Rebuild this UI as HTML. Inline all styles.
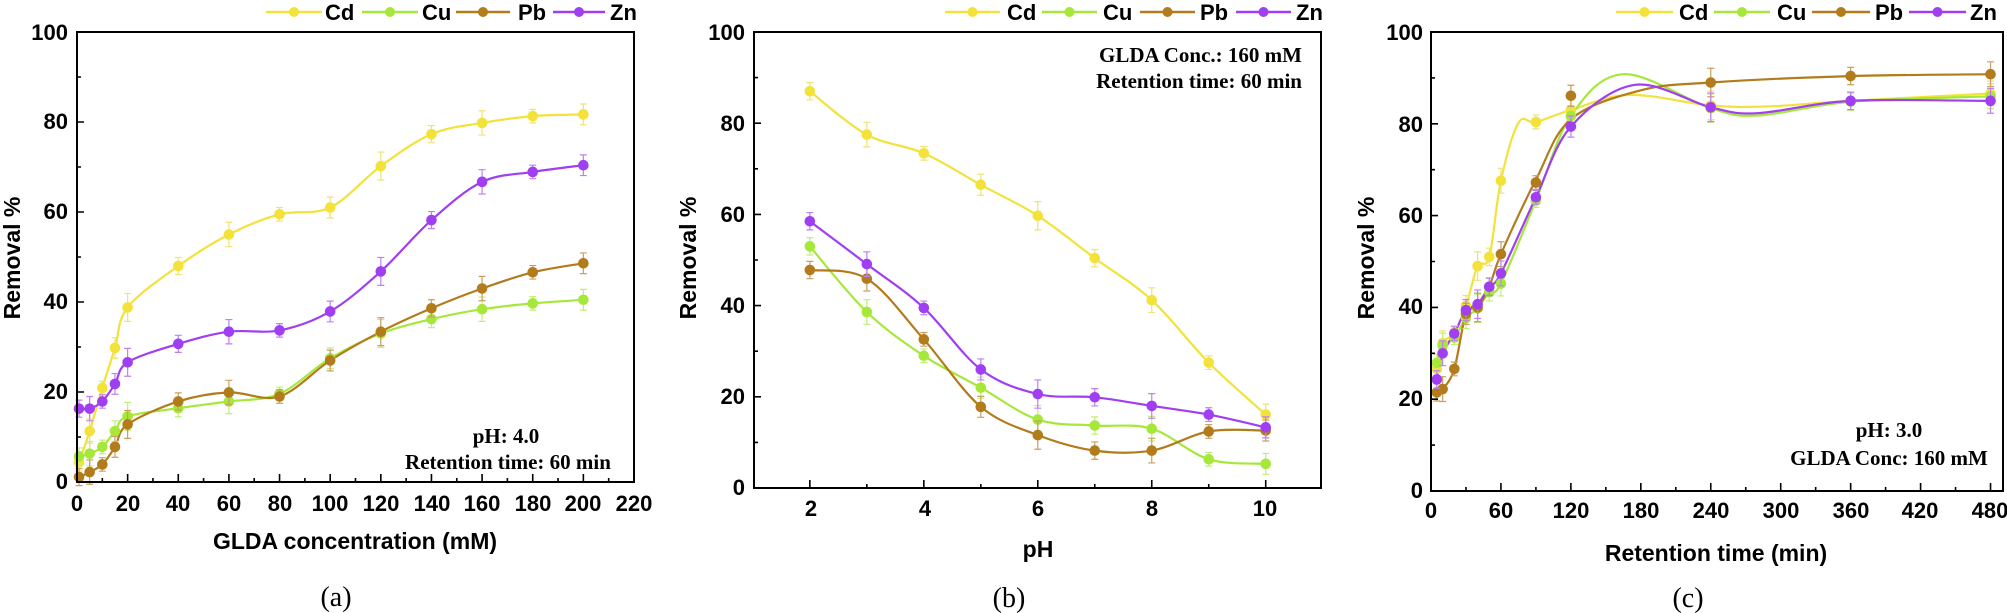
<!DOCTYPE html>
<html><head><meta charset="utf-8"><style>
html,body{margin:0;padding:0;background:#fff;}
svg{display:block;}
.t{font-family:"Liberation Sans",Arial,sans-serif;font-weight:bold;fill:#000;}
.s{font-family:"Liberation Serif","Times New Roman",serif;font-weight:bold;fill:#000;}
.c{font-family:"Liberation Serif","Times New Roman",serif;fill:#000;}
</style></head><body>
<svg id="svg" width="2007" height="613" viewBox="0 0 2007 613" xmlns="http://www.w3.org/2000/svg">
<g id="plots"></g>
<g class="t" font-size="22" text-anchor="end">
<text x="68" y="489">0</text><text x="68" y="399">20</text><text x="68" y="309">40</text><text x="68" y="219">60</text><text x="68" y="129">80</text><text x="68" y="40">100</text>
</g>
<g class="t" font-size="22" text-anchor="middle">
<text x="77" y="511">0</text><text x="128" y="511">20</text><text x="178" y="511">40</text><text x="229" y="511">60</text><text x="280" y="511">80</text><text x="330" y="511">100</text><text x="381" y="511">120</text><text x="432" y="511">140</text><text x="482" y="511">160</text><text x="533" y="511">180</text><text x="583" y="511">200</text><text x="634" y="511">220</text>
</g>
<text class="t" font-size="23" text-anchor="middle" x="355" y="549">GLDA concentration (mM)</text>
<text class="t" font-size="23" text-anchor="middle" transform="translate(20,258) rotate(-90)">Removal %</text>
<text class="s" font-size="21" text-anchor="middle" x="506" y="443">pH: 4.0</text>
<text class="s" font-size="21" text-anchor="middle" x="508" y="469">Retention time: 60 min</text>
<text class="c" font-size="28" text-anchor="middle" x="336" y="606">(a)</text>

<g class="t" font-size="22" text-anchor="end">
<text x="745" y="495">0</text><text x="745" y="404">20</text><text x="745" y="313">40</text><text x="745" y="222">60</text><text x="745" y="131">80</text><text x="745" y="40">100</text>
</g>
<g class="t" font-size="22" text-anchor="middle">
<text x="811" y="516">2</text><text x="925" y="516">4</text><text x="1038" y="516">6</text><text x="1152" y="516">8</text><text x="1265" y="516">10</text>
</g>
<text class="t" font-size="23" text-anchor="middle" x="1038" y="557">pH</text>
<text class="t" font-size="23" text-anchor="middle" transform="translate(696,258) rotate(-90)">Removal %</text>
<text class="s" font-size="21" text-anchor="end" x="1302" y="62">GLDA Conc.: 160 mM</text>
<text class="s" font-size="21" text-anchor="end" x="1302" y="88">Retention time: 60 min</text>
<text class="c" font-size="28" text-anchor="middle" x="1009" y="607">(b)</text>

<g class="t" font-size="22" text-anchor="end">
<text x="1423" y="498">0</text><text x="1423" y="406">20</text><text x="1423" y="314">40</text><text x="1423" y="223">60</text><text x="1423" y="132">80</text><text x="1423" y="40">100</text>
</g>
<g class="t" font-size="22" text-anchor="middle">
<text x="1431" y="518">0</text><text x="1501" y="518">60</text><text x="1571" y="518">120</text><text x="1641" y="518">180</text><text x="1711" y="518">240</text><text x="1781" y="518">300</text><text x="1851" y="518">360</text><text x="1920" y="518">420</text><text x="1990" y="518">480</text>
</g>
<text class="t" font-size="23" text-anchor="middle" x="1716" y="561">Retention time (min)</text>
<text class="t" font-size="23" text-anchor="middle" transform="translate(1374,258) rotate(-90)">Removal %</text>
<text class="s" font-size="21" text-anchor="middle" x="1889" y="437">pH: 3.0</text>
<text class="s" font-size="21" text-anchor="middle" x="1889" y="465">GLDA Conc: 160 mM</text>
<text class="c" font-size="28" text-anchor="middle" x="1688" y="607">(c)</text>

<g class="t" font-size="22">
<text x="325" y="20">Cd</text><text x="422" y="20">Cu</text><text x="518" y="20">Pb</text><text x="610" y="20">Zn</text>
<text x="1007" y="20">Cd</text><text x="1103" y="20">Cu</text><text x="1200" y="20">Pb</text><text x="1296" y="20">Zn</text>
<text x="1679" y="20">Cd</text><text x="1777" y="20">Cu</text><text x="1875" y="20">Pb</text><text x="1970" y="20">Zn</text>
</g>
</svg>
<script>
(function(){
var NS="http://www.w3.org/2000/svg",G=document.getElementById("plots");
var COL={Cd:"#f2e23a",Cu:"#a6e83a",Pb:"#b27b1c",Zn:"#a03ef2"};
var ECOL={Cd:"#f0e27a",Cu:"#c2ee7a",Pb:"#c8a060",Zn:"#c080f5"};
function el(n,a){var e=document.createElementNS(NS,n);for(var k in a)e.setAttribute(k,a[k]);G.appendChild(e);return e;}
function cr(pts){var d="M"+pts[0][0].toFixed(1)+","+pts[0][1].toFixed(1);
for(var i=0;i<pts.length-1;i++){var p0=pts[i-1]||pts[i],p1=pts[i],p2=pts[i+1],p3=pts[i+2]||p2;
var c1=[p1[0]+(p2[0]-p0[0])/6,p1[1]+(p2[1]-p0[1])/6],c2=[p2[0]-(p3[0]-p1[0])/6,p2[1]-(p3[1]-p1[1])/6];
d+="C"+c1[0].toFixed(1)+","+c1[1].toFixed(1)+" "+c2[0].toFixed(1)+","+c2[1].toFixed(1)+" "+p2[0].toFixed(1)+","+p2[1].toFixed(1);}return d;}
function panel(P){
 var X=function(v){return P.x0+(v-P.xmin)*(P.x1-P.x0)/(P.xmax-P.xmin);};
 var Y=function(v){return P.y1-v*(P.y1-P.y0)/100;};
 ["Cd","Cu","Pb","Zn"].forEach(function(k){
  var s=(P.curve&&P.curve[k])||P.data[k],extra=(P.extra&&P.extra[k])||[];
  var all=s.concat(extra).sort(function(a,b){return a[0]-b[0];});
  el("path",{d:cr(all.map(function(p){return [X(p[0]),Y(p[1])];})),fill:"none",stroke:COL[k],"stroke-width":2.2});
 });
 ["Cd","Cu","Pb","Zn"].forEach(function(k){
  P.data[k].forEach(function(p,i){
   var x=X(p[0]),y=Y(p[1]),e=1.5+((i*7+k.length*3)%5)*0.4;
   el("path",{d:"M"+x+","+Y(p[1]-e)+"V"+Y(p[1]+e)+"M"+(x-3.5)+","+Y(p[1]-e)+"h7M"+(x-3.5)+","+Y(p[1]+e)+"h7",stroke:ECOL[k],"stroke-width":1.2,fill:"none"});
   el("circle",{cx:x,cy:y,r:5.3,fill:COL[k]});
  });
 });
 el("rect",{x:P.x0,y:P.y0,width:P.x1-P.x0,height:P.y1-P.y0,fill:"none",stroke:"#000","stroke-width":2});
 var d="";
 for(var v=0;v<=100;v+=10){var y=Y(v);d+="M"+P.x0+","+y+"h"+(v%20==0?7:4);}
 for(var t=P.tick0;t<=P.xmax+1e-6;t+=P.minor){var x=X(t);var maj=Math.abs(((t-P.tick0)/P.major)-Math.round((t-P.tick0)/P.major))<1e-6;d+="M"+x+","+P.y1+"v-"+(maj?8:4);}
 el("path",{d:d,stroke:"#000","stroke-width":1.6,fill:"none"});
 var L=P.leg;["Cd","Cu","Pb","Zn"].forEach(function(k,i){var a=L[i];
  el("line",{x1:a[0],x2:a[1],y1:12,y2:12,stroke:COL[k],"stroke-width":2.5});
  el("circle",{cx:(a[0]+a[1])/2,cy:12,r:5,fill:COL[k]});});
}
panel({x0:77,x1:634,y0:32,y1:482,xmin:0,xmax:220,tick0:0,major:20,minor:10,
 leg:[[266,322],[362,418],[456,510],[553,605]],
 data:{
 Cd:[[0.8,4.4],[5,11.3],[10,20.9],[15,29.8],[20,38.8],[40,48],[60,55],[80,59.5],[100,61],[120,70.2],[140,77.3],[160,79.8],[180,81.3],[200,81.7]],
 Cu:[[0.8,5.7],[5,6.3],[10,7.8],[15,11.3],[20,14.6],[40,16.4],[60,17.9],[80,19.6],[100,27.5],[120,33],[140,36.2],[160,38.4],[180,39.7],[200,40.5]],
 Pb:[[0.8,1.1],[5,2.2],[10,3.9],[15,7.8],[20,12.8],[40,17.9],[60,19.9],[80,19],[100,27],[120,33.4],[140,38.6],[160,43],[180,46.6],[200,48.6]],
 Zn:[[0.8,16.3],[5,16.3],[10,17.9],[15,21.8],[20,26.6],[40,30.7],[60,33.4],[80,33.7],[100,37.9],[120,46.8],[140,58.2],[160,66.7],[180,68.9],[200,70.4]]}});
panel({x0:754,x1:1321,y0:32,y1:488,xmin:1.02,xmax:10.97,tick0:2,major:2,minor:1,
 leg:[[945,1000],[1042,1097],[1140,1195],[1236,1291]],
 data:{
 Cd:[[2,87],[3,77.5],[4,73.4],[5,66.5],[6,59.7],[7,50.4],[8,41.2],[9,27.5],[10,16.1]],
 Cu:[[2,53],[3,38.6],[4,29],[5,22],[6,15],[7,13.7],[8,13],[9,6.3],[10,5.3]],
 Pb:[[2,47.8],[3,45.9],[4,32.6],[5,17.8],[6,11.6],[7,8.2],[8,8.2],[9,12.4],[10,12.6]],
 Zn:[[2,58.5],[3,49.1],[4,39.5],[5,26],[6,20.6],[7,19.9],[8,18],[9,16.1],[10,13.3]]}});
panel({x0:1431,x1:2003,y0:32,y1:491,xmin:0,xmax:490.7,tick0:0,major:60,minor:30,
 leg:[[1616,1673],[1714,1770],[1812,1870],[1909,1966]],
 data:{
 Cd:[[5,26.6],[10,32.2],[20,34.5],[30,40.3],[40,49],[50,51],[60,67.6],[90,80.4],[120,83],[240,84],[360,85],[480,86.6]],
 Cu:[[5,27.9],[10,31.7],[20,33.4],[30,37.7],[40,39.8],[50,43.3],[60,45.2],[90,63.3],[120,81.7],[240,83.4],[360,84.8],[480,86]],
 Pb:[[5,21.5],[10,22.2],[20,26.6],[30,38.6],[40,40],[50,44.5],[60,51.6],[90,67.2],[120,86.1],[240,89],[360,90.4],[480,90.8]],
 Zn:[[5,24.3],[10,30],[20,34.3],[30,39.4],[40,40.7],[50,44.5],[60,47.4],[90,64],[120,79.4],[240,83.6],[360,85],[480,85]]},
 curve:{Pb:[[5,21.5],[10,22.2],[20,26.6],[30,38.6],[40,40],[50,44.5],[60,51.6],[90,67.8],[120,81],[180,87.3],[240,89],[360,90.4],[480,90.8]]},
 extra:{Cd:[[75,80.2],[170,86.3],[290,83.8]],Cu:[[165,90.8],[280,81.8]],Zn:[[175,88.5],[280,82.3]]}});
})();
</script>
</body></html>
